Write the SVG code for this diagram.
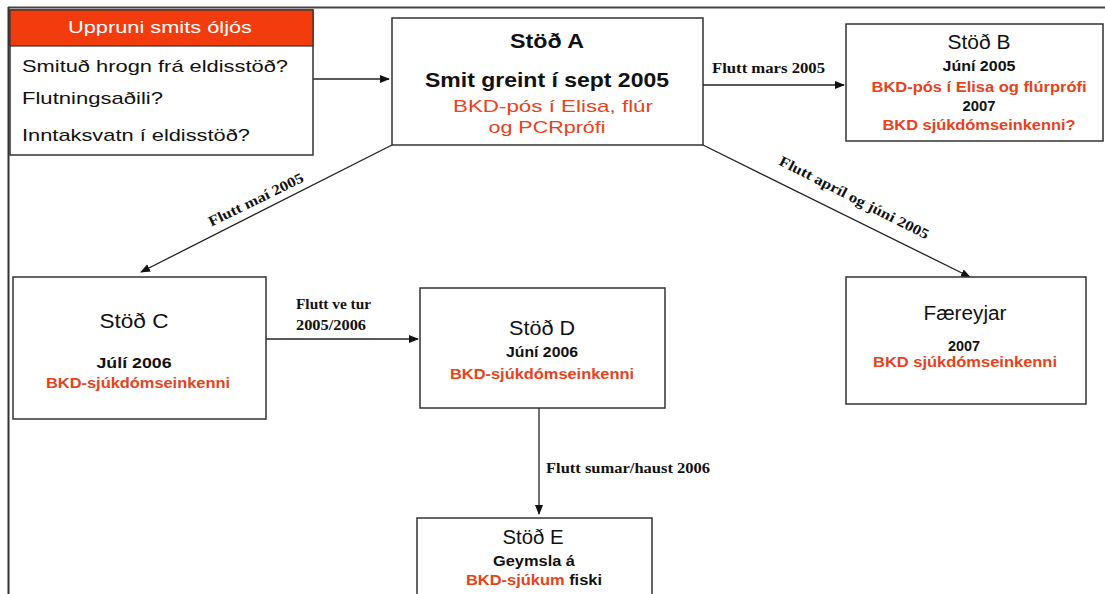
<svg xmlns="http://www.w3.org/2000/svg" width="1105" height="594" viewBox="0 0 1105 594">
<defs>
<marker id="arr" markerWidth="10" markerHeight="10" refX="9" refY="5" orient="auto" markerUnits="userSpaceOnUse">
<path d="M0,1 L10,5 L0,9 Z" fill="#111"/>
</marker>
<style>
.box{fill:#fff;stroke:#333;stroke-width:1.5}
.t{font-family:"Liberation Sans",Arial,sans-serif;text-anchor:middle;fill:#111}
.h{font-size:20px}
.hb{font-size:21px;font-weight:bold}
.b{font-size:14.5px;font-weight:bold}
.r{fill:#e8421c}
.lbl{font-family:"Liberation Serif","Times New Roman",serif;font-size:14.5px;font-weight:bold;fill:#111}
.edge{stroke:#222;stroke-width:1.3;fill:none;marker-end:url(#arr)}
.l{font-family:"Liberation Sans",Arial,sans-serif;font-size:17px;fill:#111}
</style>
</defs>
<rect width="1105" height="594" fill="#fff"/>
<g id="frame">
<line x1="8" y1="7.5" x2="1105" y2="7.5" stroke="#444" stroke-width="2"/>
<line x1="8.5" y1="7" x2="8.5" y2="594" stroke="#333" stroke-width="2"/>
</g>
<g id="connectors">
<line class="edge" x1="313" y1="79" x2="389" y2="79"/>
<line class="edge" x1="703" y1="85" x2="844" y2="85"/>
<line class="edge" x1="392" y1="145" x2="141" y2="272"/>
<line class="edge" x1="703" y1="145" x2="970" y2="277"/>
<line class="edge" x1="266" y1="339" x2="418" y2="339"/>
<line class="edge" x1="539" y1="408" x2="539" y2="514"/>
<text class="lbl" x="712" y="73" textLength="113" lengthAdjust="spacingAndGlyphs">Flutt mars 2005</text>
<text class="lbl" transform="translate(258,204) rotate(-26)" text-anchor="middle" textLength="104" lengthAdjust="spacingAndGlyphs">Flutt maí 2005</text>
<text class="lbl" transform="translate(852,202) rotate(27)" text-anchor="middle" textLength="166" lengthAdjust="spacingAndGlyphs">Flutt apríl og júni 2005</text>
<text class="lbl" x="296" y="309" textLength="75" lengthAdjust="spacingAndGlyphs">Flutt ve tur</text>
<text class="lbl" x="296" y="330" textLength="70" lengthAdjust="spacingAndGlyphs">2005/2006</text>
<text class="lbl" x="546" y="473" textLength="164" lengthAdjust="spacingAndGlyphs">Flutt sumar/haust 2006</text>
</g>
<g id="uppruni">
<rect class="box" x="10" y="10" width="303" height="145"/>
<rect x="10" y="10" width="303" height="36" fill="#f23c0e" stroke="#333" stroke-width="1.2"/>
<text class="t" x="160" y="33" font-size="17" style="fill:#fff" textLength="184" lengthAdjust="spacingAndGlyphs">Uppruni smits óljós</text>
<text class="l" x="22" y="72" textLength="266" lengthAdjust="spacingAndGlyphs">Smituð hrogn frá eldisstöð?</text>
<text class="l" x="22" y="104" textLength="141" lengthAdjust="spacingAndGlyphs">Flutningsaðili?</text>
<text class="l" x="22" y="141" textLength="228" lengthAdjust="spacingAndGlyphs">Inntaksvatn í eldisstöð?</text>
</g>
<g id="stodA">
<rect class="box" x="392" y="18" width="311" height="127"/>
<text class="t hb" x="547" y="48" textLength="74" lengthAdjust="spacingAndGlyphs">Stöð A</text>
<text class="t hb" x="547" y="87" textLength="244" lengthAdjust="spacingAndGlyphs">Smit greint í sept 2005</text>
<text class="t r" x="553" y="112" font-size="17" textLength="200" lengthAdjust="spacingAndGlyphs">BKD-pós í Elisa, flúr</text>
<text class="t r" x="547" y="133" font-size="17" textLength="117" lengthAdjust="spacingAndGlyphs">og PCRprófi</text>
</g>
<g id="stodB">
<rect class="box" x="846" y="24" width="257" height="117"/>
<text class="t h" x="979" y="49" textLength="63" lengthAdjust="spacingAndGlyphs">Stöð B</text>
<text class="t b" x="979" y="71" textLength="73" lengthAdjust="spacingAndGlyphs">Júní 2005</text>
<text class="t b r" x="979" y="92" textLength="215" lengthAdjust="spacingAndGlyphs">BKD-pós í Elisa og flúrprófi</text>
<text class="t b" x="979" y="111" textLength="33" lengthAdjust="spacingAndGlyphs">2007</text>
<text class="t b r" x="979" y="130" textLength="193" lengthAdjust="spacingAndGlyphs">BKD sjúkdómseinkenni?</text>
</g>
<g id="stodC">
<rect class="box" x="13" y="277" width="253" height="142"/>
<text class="t h" x="134" y="328" textLength="69" lengthAdjust="spacingAndGlyphs">Stöð C</text>
<text class="t b" x="134" y="368" textLength="75" lengthAdjust="spacingAndGlyphs">Júlí 2006</text>
<text class="t b r" x="138" y="388" textLength="184" lengthAdjust="spacingAndGlyphs">BKD-sjúkdómseinkenni</text>
</g>
<g id="stodD">
<rect class="box" x="420" y="288" width="245" height="120"/>
<text class="t h" x="542" y="335" textLength="66" lengthAdjust="spacingAndGlyphs">Stöð D</text>
<text class="t b" x="542" y="357" textLength="72" lengthAdjust="spacingAndGlyphs">Júní 2006</text>
<text class="t b r" x="542" y="379" textLength="184" lengthAdjust="spacingAndGlyphs">BKD-sjúkdómseinkenni</text>
</g>
<g id="faereyjar">
<rect class="box" x="846" y="277" width="240" height="127"/>
<text class="t h" x="965" y="320" textLength="83" lengthAdjust="spacingAndGlyphs">Færeyjar</text>
<text class="t b" x="964" y="351" textLength="32" lengthAdjust="spacingAndGlyphs">2007</text>
<text class="t b r" x="965" y="367" textLength="184" lengthAdjust="spacingAndGlyphs">BKD sjúkdómseinkenni</text>
</g>
<g id="stodE">
<rect class="box" x="417" y="518" width="235" height="90"/>
<text class="t h" x="533" y="544" textLength="61" lengthAdjust="spacingAndGlyphs">Stöð E</text>
<text class="t b" x="534" y="566" textLength="82" lengthAdjust="spacingAndGlyphs">Geymsla á</text>
<text class="t b" x="534" y="585" textLength="136" lengthAdjust="spacingAndGlyphs"><tspan class="r">BKD-sjúkum</tspan> fiski</text>
</g>
</svg>
